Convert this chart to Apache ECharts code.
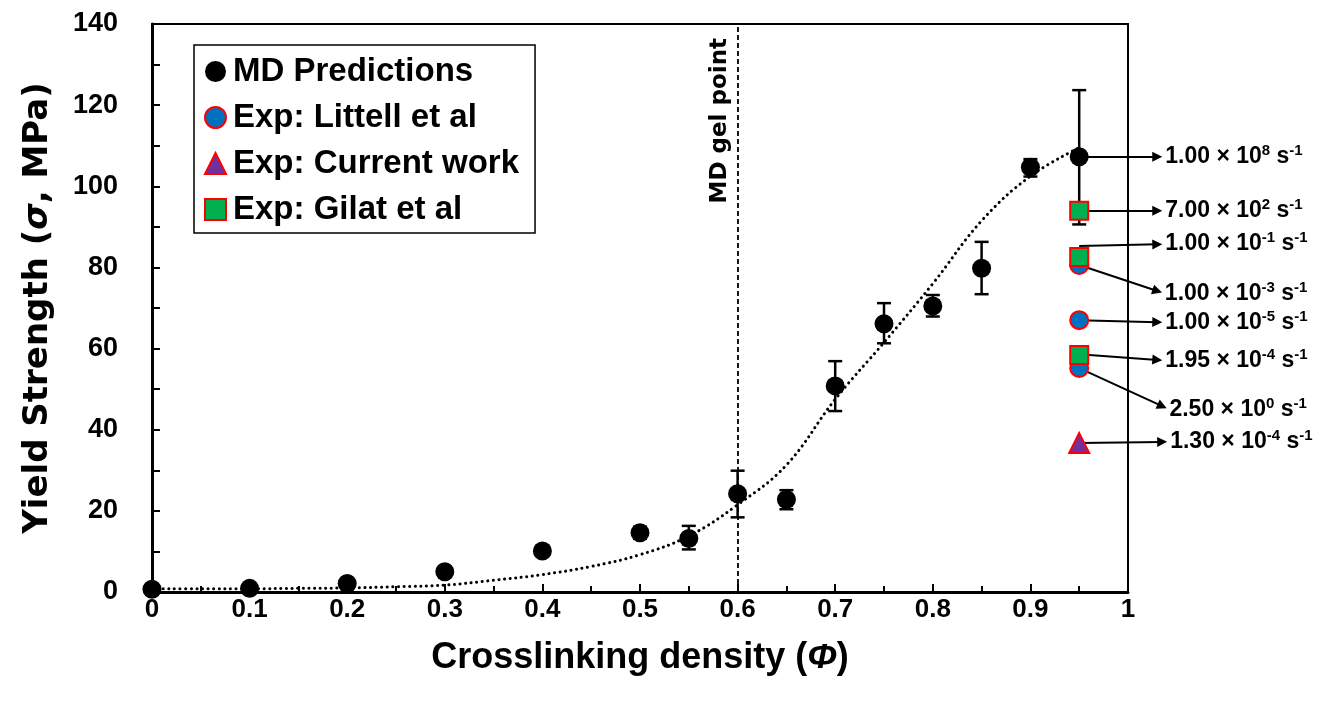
<!DOCTYPE html>
<html><head><meta charset="utf-8">
<script src="https://cdn.jsdelivr.net/npm/echarts@6/dist/echarts.min.js"></script>
<style>html,body{margin:0;padding:0;background:#fff}#c{width:1317px;height:702px}</style>
</head><body><div id="c"></div>
<script>
// ---- data ----
const mdX = [0, 0.1, 0.2, 0.3, 0.4, 0.5, 0.55, 0.6, 0.65, 0.7, 0.75, 0.8, 0.85, 0.9, 0.95];
const mdY = [0.7, 0.9, 2.1, 5.0, 10.1, 14.6, 13.2, 24.2, 22.8, 50.8, 66.1, 70.5, 79.8, 104.7, 107.3];
const mdErrLow  = [null, null, null, null, null, 13.1, 10.5, 18.4, 20.4, 44.6, 61.3, 67.9, 73.4, 102.4, 90.6];
const mdErrHigh = [null, null, null, null, null, 16.1, 16.3, 29.9, 25.1, 56.9, 71.2, 73.2, 86.3, 106.7, 123.7];
const fitX = [0, 0.05, 0.1, 0.15, 0.2, 0.25, 0.3, 0.35, 0.4, 0.45, 0.5, 0.55, 0.6, 0.65, 0.7, 0.75, 0.8, 0.85, 0.9, 0.95];
const fitY = [0.8, 0.8, 0.8, 0.9, 1.0, 1.3, 1.7, 2.9, 4.3, 6.3, 9.2, 13.8, 21.5, 31.3, 47.5, 61.5, 76.0, 91.5, 102.5, 109.5];
const expX = 0.95;
const littellY = [80.6, 67.0, 55.2];
const currentY = [36.7];
const gilatY = [94.0, 82.6, 58.4];
const gelPoint = 0.6;
const xTickLabels = ['0', '0.1', '0.2', '0.3', '0.4', '0.5', '0.6', '0.7', '0.8', '0.9', '1'];
const rateFrom = [[0.95, 107.3], [0.95, 94.0], [0.95, 85.3], [0.95, 80.6], [0.95, 67.0], [0.95, 58.6], [0.95, 55.2], [0.95, 36.7]];
const rateTo   = [[1.03, 107.3], [1.03, 94.0], [1.03, 85.7], [1.03, 74.2], [1.03, 66.5], [1.03, 57.2], [1.035, 45.8], [1.035, 37.0]];
const rateMant = ['1.00', '7.00', '1.00', '1.00', '1.00', '1.95', '2.50', '1.30'];
const rateExp  = ['8', '2', '-1', '-3', '-5', '-4', '0', '-4'];

const FONT = 'Liberation Sans, Arial, sans-serif';
const chart = echarts.init(document.getElementById('c'), null, {renderer: 'canvas'});

const errData = mdX.map((x, i) => [x, mdErrLow[i], mdErrHigh[i]]).filter(d => d[1] != null);

const option = {
  animation: false,
  backgroundColor: '#fff',
  grid: {left: 152, right: 189, top: 24, bottom: 110, show: true, borderColor: '#000', borderWidth: 2},
  legend: {
    orient: 'vertical', left: 194, top: 45,
    data: ['MD Predictions', 'Exp: Littell et al', 'Exp: Current work', 'Exp: Gilat et al'],
    itemWidth: 21, itemHeight: 21, itemGap: 13,
    padding: [10, 16, 7, 10],
    borderColor: '#000', borderWidth: 1.5, borderRadius: 0,
    textStyle: {fontFamily: FONT, fontWeight: 'bold', fontSize: 33, color: '#000', padding: [0, 0, 0, 2]}
  },
  xAxis: {
    type: 'value', min: 0, max: 1, interval: 0.1,
    name: 'Crosslinking density ({i|Φ})', nameLocation: 'middle', nameGap: 48,
    nameTextStyle: {fontFamily: FONT, fontWeight: 'bold', fontSize: 36, color: '#000',
      rich: {i: {fontFamily: FONT, fontWeight: 'bold', fontStyle: 'italic', fontSize: 36, color: '#000'}}},
    axisLine: {lineStyle: {color: '#000', width: 3}},
    axisTick: {inside: true, length: 8, lineStyle: {color: '#000', width: 2}},
    minorTick: {show: true, splitNumber: 2, length: 6, lineStyle: {color: '#000', width: 2}},
    splitLine: {show: false},
    axisLabel: {margin: 5, fontFamily: FONT, fontWeight: 'bold', fontSize: 26, color: '#000',
      formatter: (v) => xTickLabels[Math.round(v * 10)]}
  },
  yAxis: {
    type: 'value', min: 0, max: 140, interval: 20,
    name: 'Yield Strength ({i|σ}, MPa)', nameLocation: 'middle', nameGap: 97,
    nameTextStyle: {fontFamily: 'DejaVu Sans, sans-serif', fontWeight: 'bold', fontSize: 34, color: '#000',
      rich: {i: {fontFamily: 'DejaVu Sans, sans-serif', fontWeight: 'bold', fontStyle: 'italic', fontSize: 34, color: '#000'}}},
    axisLine: {lineStyle: {color: '#000', width: 3}},
    axisTick: {inside: true, length: 8, lineStyle: {color: '#000', width: 2}},
    minorTick: {show: true, splitNumber: 2, length: 8, lineStyle: {color: '#000', width: 2}},
    splitLine: {show: false},
    axisLabel: {margin: 34, fontFamily: FONT, fontWeight: 'bold', fontSize: 27, color: '#000'}
  },
  series: [
    {
      name: 'fit', type: 'line', smooth: 0.4, showSymbol: false, symbol: 'none', z: 2,
      data: fitX.map((x, i) => [x, fitY[i]]),
      lineStyle: {color: '#000', width: 3, type: [0.1, 5.5], cap: 'round'},
      markLine: {
        silent: true, symbol: ['none', 'none'],
        lineStyle: {color: '#000', width: 1.8, type: [5, 3]},
        label: {show: true, position: 'insideEndTop', formatter: 'MD gel point', distance: [14, 6],
          fontFamily: 'DejaVu Sans, sans-serif', fontWeight: 'bold', fontSize: 23, color: '#000'},
        data: [{xAxis: gelPoint}]
      }
    },
    {
      name: 'rates', type: 'lines', coordinateSystem: 'cartesian2d', clip: false, z: 3,
      symbol: ['none', 'triangle'], symbolSize: 10,
      lineStyle: {color: '#000', width: 2, opacity: 1, curveness: 0},
      label: {show: true, position: 'end', distance: 8, fontFamily: FONT, fontWeight: 'bold', fontSize: 23, color: '#000',
        rich: {s: {fontFamily: FONT, fontWeight: 'bold', fontSize: 15, color: '#000', padding: [0, 0, 12, 0]}}},
      data: rateFrom.map((f, i) => ({
        coords: [f, rateTo[i]],
        label: {formatter: rateMant[i] + ' × 10{s|' + rateExp[i] + '} s{s|-1}'}
      }))
    },
    {
      name: 'md-err', type: 'custom', z: 4,
      data: errData,
      renderItem: function (params, api) {
        const x = api.value(0);
        const lo = api.coord([x, api.value(1)]);
        const hi = api.coord([x, api.value(2)]);
        const w = 7;
        const st = {stroke: '#000', lineWidth: 2.5};
        return {type: 'group', children: [
          {type: 'line', shape: {x1: lo[0], y1: lo[1], x2: hi[0], y2: hi[1]}, style: st},
          {type: 'line', shape: {x1: lo[0] - w, y1: lo[1], x2: lo[0] + w, y2: lo[1]}, style: st},
          {type: 'line', shape: {x1: hi[0] - w, y1: hi[1], x2: hi[0] + w, y2: hi[1]}, style: st}
        ]};
      }
    },
    {
      name: 'MD Predictions', type: 'scatter', clip: false, z: 5, symbol: 'circle', symbolSize: 19,
      itemStyle: {color: '#000', opacity: 1},
      data: mdX.map((x, i) => [x, mdY[i]])
    },
    {
      name: 'Exp: Littell et al', type: 'scatter', clip: false, z: 5, symbol: 'circle', symbolSize: 18,
      itemStyle: {color: '#0070C0', borderColor: '#FF0000', borderWidth: 2, opacity: 1},
      data: littellY.map(y => [expX, y])
    },
    {
      name: 'Exp: Current work', type: 'scatter', clip: false, z: 5, symbol: 'triangle', symbolSize: 20,
      itemStyle: {color: '#7030A0', borderColor: '#FF0000', borderWidth: 2, opacity: 1},
      data: currentY.map(y => [expX, y])
    },
    {
      name: 'Exp: Gilat et al', type: 'scatter', clip: false, z: 5, symbol: 'rect', symbolSize: 18,
      itemStyle: {color: '#00B050', borderColor: '#FF0000', borderWidth: 2, opacity: 1},
      data: gilatY.map(y => [expX, y])
    }
  ]
};
chart.setOption(option);
</script></body></html>
